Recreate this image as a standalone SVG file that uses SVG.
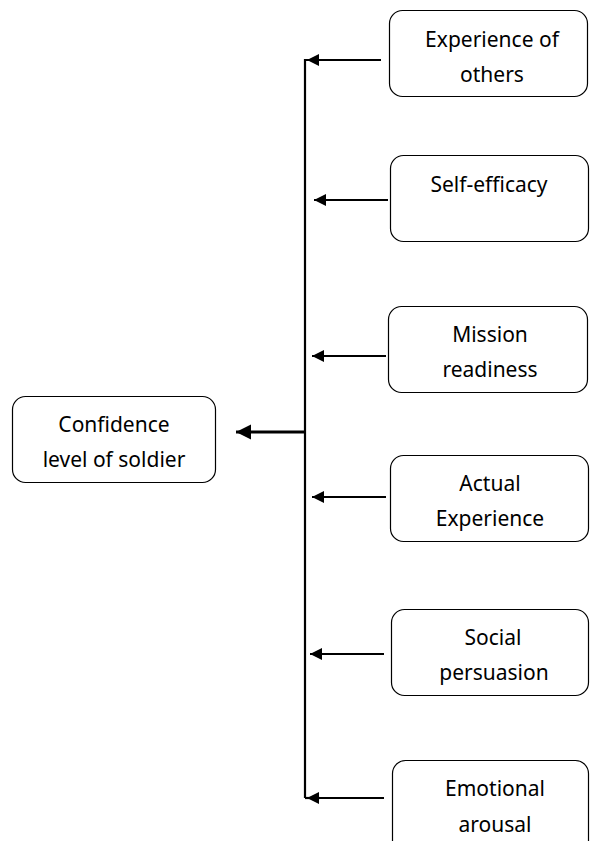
<svg xmlns="http://www.w3.org/2000/svg" width="590" height="841" viewBox="0 0 590 841">
<defs>
<style>
.box{fill:#fff;stroke:#000;stroke-width:1.2}
.t{font-family:"Noto Sans","Open Sans",sans-serif;font-size:21px;fill:#000;text-anchor:middle}
.c{stroke:#000;stroke-width:2.2;fill:none}
.ct{stroke:#000;stroke-width:3.2;fill:none}
</style>
<marker id="ah" viewBox="0 0 10 10" refX="10" refY="5" markerWidth="15" markerHeight="12" markerUnits="userSpaceOnUse" orient="auto">
<path d="M0,0 L10,5 L0,10 Z" fill="#000"/>
</marker>
<marker id="ahb" viewBox="0 0 10 10" refX="10" refY="5" markerWidth="15" markerHeight="16" markerUnits="userSpaceOnUse" orient="auto">
<path d="M0,0 L10,5 L0,10 Z" fill="#000"/>
</marker>
</defs>
<rect width="590" height="841" fill="#fff"/>
<g id="connectors">
<path class="c" d="M305,798 V60 H320"/>
<path class="c" d="M381,60 H307" marker-end="url(#ah)"/>
<path class="c" d="M388,200 H314" marker-end="url(#ah)"/>
<path class="c" d="M386,356 H312" marker-end="url(#ah)"/>
<path class="c" d="M386,497 H312" marker-end="url(#ah)"/>
<path class="c" d="M384,654 H310" marker-end="url(#ah)"/>
<path class="c" d="M305,798 H320"/>
<path class="c" d="M384,798 H307" marker-end="url(#ah)"/>
<path class="ct" d="M306,432 H236" marker-end="url(#ahb)"/>
</g>
<g id="n1"><rect class="box" x="389.5" y="10.5" width="198" height="86" rx="13"/><text class="t" x="492" y="47">Experience of</text><text class="t" x="492" y="82">others</text></g>
<g id="n2"><rect class="box" x="390.5" y="155.5" width="198" height="86" rx="13"/><text class="t" x="489" y="192">Self-efficacy</text></g>
<g id="n3"><rect class="box" x="388.5" y="306.5" width="199" height="86" rx="13"/><text class="t" x="490" y="342">Mission</text><text class="t" x="490" y="377">readiness</text></g>
<g id="n4"><rect class="box" x="390.5" y="455.5" width="198" height="86" rx="13"/><text class="t" x="490" y="491">Actual</text><text class="t" x="490" y="526">Experience</text></g>
<g id="n5"><rect class="box" x="391.5" y="609.5" width="197" height="86" rx="13"/><text class="t" x="493" y="645">Social</text><text class="t" x="494" y="680">persuasion</text></g>
<g id="n6"><rect class="box" x="392.5" y="760.5" width="196" height="95" rx="13"/><text class="t" x="495" y="796">Emotional</text><text class="t" x="495" y="832">arousal</text></g>
<g id="n0"><rect class="box" x="12.5" y="396.5" width="203" height="86" rx="13"/><text class="t" x="114" y="432">Confidence</text><text class="t" x="114" y="467">level of soldier</text></g>
</svg>
